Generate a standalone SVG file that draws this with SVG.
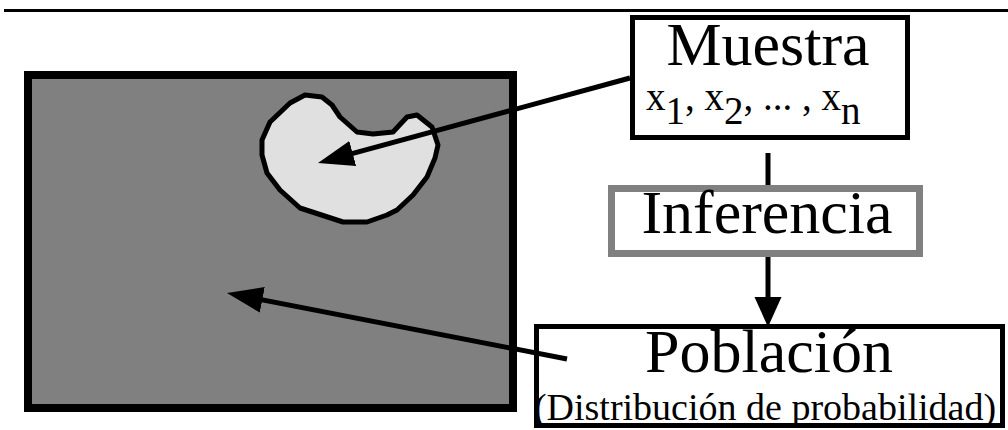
<svg xmlns="http://www.w3.org/2000/svg" width="1008" height="430" viewBox="0 0 1008 430">
<style>
.big{font-size:62px;text-anchor:middle;}
.conn{stroke:#000;stroke-width:5;fill:none;}
</style>
<defs>
<marker id="ah" markerUnits="userSpaceOnUse" markerWidth="40" markerHeight="30" viewBox="0 -15 40 30" refX="16" refY="0" orient="auto">
<path d="M0,-13 L36,0 L0,13 z" fill="#000"/>
</marker>
<marker id="ah2" markerUnits="userSpaceOnUse" markerWidth="40" markerHeight="30" viewBox="0 -15 40 30" refX="10" refY="0" orient="auto">
<path d="M0,-13.5 L30,0 L0,13.5 z" fill="#000"/>
</marker>
</defs>
<rect width="1008" height="430" fill="#fff"/>
<line x1="4" y1="10.5" x2="1008" y2="10.5" stroke="#000" stroke-width="3"/>
<g id="poblacion-area">
<rect x="28" y="75" width="485" height="333" fill="#808080" stroke="#000" stroke-width="8"/>
</g>
<g id="muestra-area">
<path d="M305,95 L322,97 L332,105 L340,117 L357,132 L373,134 L393,132 L407,117 L417,115 L432,127 L438,145 L435,158 L427,177 L413,195 L397,210 L387,215 L367,222 L343,222 L300,208 L280,190 L267,173 L262,155 L262,140 L270,122 L290,103 Z" fill="#e0e0e0" stroke="#000" stroke-width="5" stroke-linejoin="round"/>
</g>
<g id="muestra" font-family="Liberation Serif, serif">
<rect x="632.5" y="17.5" width="275" height="120" fill="#fff" stroke="#000" stroke-width="5"/>
<text class="big" x="768" y="65" font-family="Liberation Serif, serif">Muestra</text>
<text x="646" y="110" font-size="39" font-family="Liberation Serif, serif">x<tspan dy="14">1</tspan><tspan dy="-14">, x</tspan><tspan dy="14">2</tspan><tspan dy="-14">, ... , x</tspan><tspan dy="14">n</tspan></text>
</g>
<g id="inferencia" font-family="Liberation Serif, serif">
<rect x="611.5" y="188.5" width="308" height="65" fill="#fff" stroke="#808080" stroke-width="7"/>
<text class="big" x="767" y="233" font-family="Liberation Serif, serif">Inferencia</text>
</g>
<g id="poblacion" font-family="Liberation Serif, serif">
<rect x="536.5" y="326.5" width="466" height="99" fill="#fff" stroke="#000" stroke-width="5"/>
<text class="big" x="769" y="372" font-family="Liberation Serif, serif">Población</text>
<text x="765" y="420" font-size="38" text-anchor="middle" font-family="Liberation Serif, serif">(Distribución de probabilidad)</text>
</g>
<g id="connectors">
<line class="conn" x1="630" y1="78" x2="337.3" y2="157.7" marker-end="url(#ah)"/>
<line class="conn" x1="567" y1="359" x2="246.6" y2="296.8" marker-end="url(#ah)"/>
<line class="conn" x1="768" y1="153" x2="768" y2="185"/>
<line class="conn" x1="768" y1="257" x2="768" y2="307" marker-end="url(#ah2)"/>
</g>
</svg>
